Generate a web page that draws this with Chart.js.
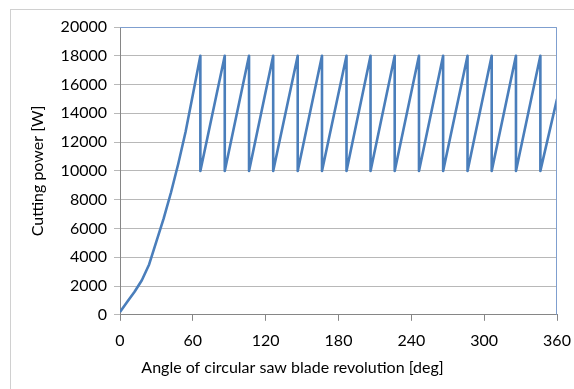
<!DOCTYPE html>
<html>
<head>
<meta charset="utf-8">
<script src="https://cdn.jsdelivr.net/npm/chart.js@4/dist/chart.umd.min.js"></script>
<style>
  html, body { margin: 0; padding: 0; background: #ffffff; }
  #wrap { position: relative; width: 574px; height: 389px; overflow: hidden; }
  #frame { position: absolute; left: 10px; top: 9px; width: 600px; height: 420px; border: 1px solid #d0d0d0; box-sizing: border-box; }
  canvas { position: absolute; left: 0; top: 0; }
</style>
</head>
<body>
<div id="wrap">
  <div id="frame"></div>
  <canvas id="powerChart" width="574" height="389"></canvas>
</div>
<script>
// angle [deg] and cutting power [W]
const angles = [
  0, 6, 12, 18, 24, 30, 36, 42, 48, 54, 60,
  66.2, 66.2, 86.3, 86.3, 106.3, 106.3, 126.2, 126.2, 146.4, 146.4,
  166.4, 166.4, 186.6, 186.6, 206.4, 206.4, 226.3, 226.3, 246.3, 246.3,
  266.2, 266.2, 286.3, 286.3, 306.2, 306.2, 326.2, 326.2, 346.3, 346.3,
  360
];
const power = [
  200, 900, 1600, 2400, 3500, 5100, 6700, 8500, 10500, 12700, 15300,
  18000, 10000, 18000, 10000, 18000, 10000, 18000, 10000, 18000, 10000,
  18000, 10000, 18000, 10000, 18000, 10000, 18000, 10000, 18000, 10000,
  18000, 10000, 18000, 10000, 18000, 10000, 18000, 10000, 18000, 10000,
  15000
];
const xTitle = 'Angle of circular saw blade revolution [deg]';
const yTitle = 'Cutting power [W]';

const points = angles.map((a, i) => ({ x: a, y: power[i] }));

// blue border on top and right of the plot area
const plotBorder = {
  id: 'plotBorder',
  afterDraw(chart) {
    const { ctx, chartArea: a } = chart;
    ctx.save();
    ctx.strokeStyle = '#7f9fcf';
    ctx.lineWidth = 1;
    ctx.beginPath();
    ctx.moveTo(a.left, a.top + 0.5);
    ctx.lineTo(a.right - 0.5, a.top + 0.5);
    ctx.lineTo(a.right - 0.5, a.bottom);
    ctx.stroke();
    ctx.restore();
  }
};

const font = { family: 'Lato, "Open Sans", sans-serif', size: 16 };

new Chart(document.getElementById('powerChart'), {
  type: 'scatter',
  data: {
    datasets: [{
      data: points,
      showLine: true,
      borderColor: '#4a7ebb',
      borderWidth: 2.6,
      borderJoinStyle: 'round',
      pointRadius: 0,
      tension: 0
    }]
  },
  options: {
    responsive: false,
    animation: false,
    layout: { padding: { left: 28, top: 27, right: 17, bottom: 12 } },
    plugins: {
      legend: { display: false },
      tooltip: { enabled: false },
      // x-axis title as a bottom title box so it centres like the original
      title: { display: true, position: 'bottom', text: xTitle, color: '#000000',
        font: { family: font.family, size: 16, weight: 'normal' }, padding: 0 }
    },
    scales: {
      x: {
        type: 'linear',
        min: 0,
        max: 360,
        ticks: { stepSize: 60, color: '#000000', font: font, padding: 10, maxRotation: 0,
          callback: (v) => String(v) },
        grid: { drawOnChartArea: false, color: '#868686', tickLength: 6 },
        border: { color: '#868686' },
        afterFit: (s) => { s.height = 43; s.paddingRight = 0; s.paddingLeft = 0; }
      },
      y: {
        min: 0,
        max: 20000,
        ticks: { stepSize: 2000, color: '#000000', font: font, padding: 7,
          callback: (v) => String(v) },
        grid: { color: '#b8b8b8', tickLength: 6 },
        border: { color: '#868686' },
        title: { display: true, text: yTitle, color: '#000000', font: font, padding: 0 },
        afterFit: (s) => { s.width = 92; }
      }
    }
  },
  plugins: [plotBorder]
});
</script>
</body>
</html>
